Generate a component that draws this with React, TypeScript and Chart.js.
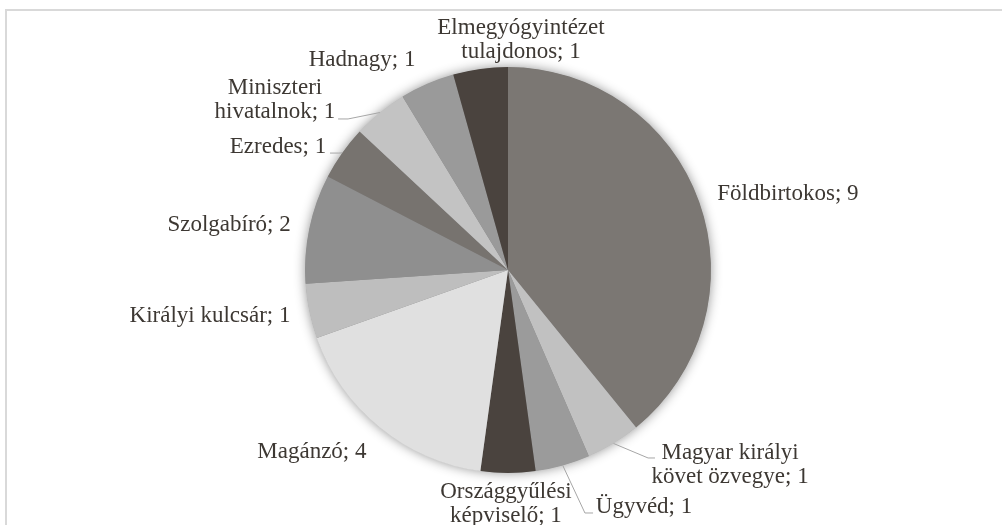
import React, { useEffect, useRef } from "react";
import { Chart, registerables } from "chart.js";

Chart.register(...registerables);

const categories = [
  "Földbirtokos",
  "Magyar királyi követ özvegye",
  "Ügyvéd",
  "Országgyűlési képviselő",
  "Magánzó",
  "Királyi kulcsár",
  "Szolgabíró",
  "Ezredes",
  "Miniszteri hivatalnok",
  "Hadnagy",
  "Elmegyógyintézet tulajdonos",
];
const values = [9, 1, 1, 1, 4, 1, 2, 1, 1, 1, 1];
const colors = [
  "#7b7773",
  "#c1c1c1",
  "#9b9b9b",
  "#4a433e",
  "#e0e0e0",
  "#bebebe",
  "#8f8f8f",
  "#77736f",
  "#c3c3c3",
  "#9a9a9a",
  "#4a433e",
];

// Label layout, in units of pie radius relative to the pie centre
type Lay = { dx: number; dy: number; words: number; leader?: [number, number, number, number] };
const labelLayout: Lay[] = [
  { dx: 1.379, dy: -0.374, words: 0 },
  { dx: 1.094, dy: 0.958, words: 2, leader: [0.69, 0.926, 0.724, 0.926] },
  { dx: 0.67, dy: 1.167, words: 0, leader: [0.379, 1.197, 0.419, 1.197] },
  { dx: -0.01, dy: 1.153, words: 1 },
  { dx: -0.966, dy: 0.897, words: 0 },
  { dx: -1.468, dy: 0.227, words: 0 },
  { dx: -1.374, dy: -0.222, words: 0 },
  { dx: -1.133, dy: -0.606, words: 0, leader: [-0.833, -0.576, -0.877, -0.576] },
  { dx: -1.148, dy: -0.837, words: 1, leader: [-0.788, -0.744, -0.837, -0.744] },
  { dx: -0.719, dy: -1.034, words: 0 },
  { dx: 0.064, dy: -1.133, words: 1 },
];

const FONT = '23px "Liberation Serif", "Times New Roman", serif';
const LINE_H = 24;

const decorPlugin = {
  id: "decor",
  beforeDraw(chart: any) {
    const ctx = chart.ctx;
    ctx.save();
    ctx.strokeStyle = "#d9d9d9";
    ctx.lineWidth = 2;
    ctx.beginPath();
    ctx.moveTo(6, chart.height);
    ctx.lineTo(6, 10);
    ctx.lineTo(chart.width, 10);
    ctx.stroke();
    ctx.restore();
  },
  beforeDatasetsDraw(chart: any) {
    const arc = chart.getDatasetMeta(0).data[0];
    if (!arc) return;
    const ctx = chart.ctx;
    ctx.save();
    ctx.shadowColor = "rgba(0,0,0,0.45)";
    ctx.shadowBlur = 12;
    ctx.fillStyle = "#888";
    ctx.beginPath();
    ctx.arc(arc.x, arc.y, arc.outerRadius - 0.5, 0, Math.PI * 2);
    ctx.fill();
    ctx.restore();
  },
  afterDatasetsDraw(chart: any) {
    const meta = chart.getDatasetMeta(0);
    const ctx = chart.ctx;
    ctx.save();
    meta.data.forEach((arc: any, i: number) => {
      const lay = labelLayout[i];
      const cx = arc.x;
      const cy = arc.y;
      const r = arc.outerRadius;
      if (lay.leader) {
        const mid = (arc.startAngle + arc.endAngle) / 2;
        ctx.strokeStyle = "#a6a6a6";
        ctx.lineWidth = 1;
        ctx.beginPath();
        ctx.moveTo(cx + Math.cos(mid) * r, cy + Math.sin(mid) * r);
        ctx.lineTo(cx + lay.leader[0] * r, cy + lay.leader[1] * r);
        ctx.lineTo(cx + lay.leader[2] * r, cy + lay.leader[3] * r);
        ctx.stroke();
      }
      const text = `${categories[i]}; ${values[i]}`;
      const words = text.split(" ");
      const lines = lay.words > 0
        ? [words.slice(0, lay.words).join(" "), words.slice(lay.words).join(" ")]
        : [text];
      ctx.font = FONT;
      ctx.fillStyle = "#3d3833";
      ctx.textAlign = "center";
      ctx.textBaseline = "middle";
      const x = cx + lay.dx * r;
      const y0 = cy + lay.dy * r - ((lines.length - 1) * LINE_H) / 2;
      lines.forEach((ln, k) => ctx.fillText(ln, x, y0 + k * LINE_H));
    });
    ctx.restore();
  },
};

export default function App() {
  const ref = useRef<HTMLCanvasElement>(null);
  useEffect(() => {
    if (!ref.current) return;
    const chart = new Chart(ref.current, {
      type: "pie",
      data: {
        labels: categories,
        datasets: [
          {
            data: values,
            backgroundColor: colors,
            borderWidth: 0,
          },
        ],
      },
      options: {
        responsive: false,
        animation: false,
        layout: { padding: { left: 100, right: 86, top: 67, bottom: 52 } },
        plugins: { legend: { display: false }, tooltip: { enabled: false } },
      },
      plugins: [decorPlugin],
    });
    return () => chart.destroy();
  }, []);
  return (
    <div style={{ position: "absolute", left: 0, top: 0, width: 1002, height: 525, background: "#fff" }}>
      <canvas ref={ref} width={1002} height={525} />
    </div>
  );
}
